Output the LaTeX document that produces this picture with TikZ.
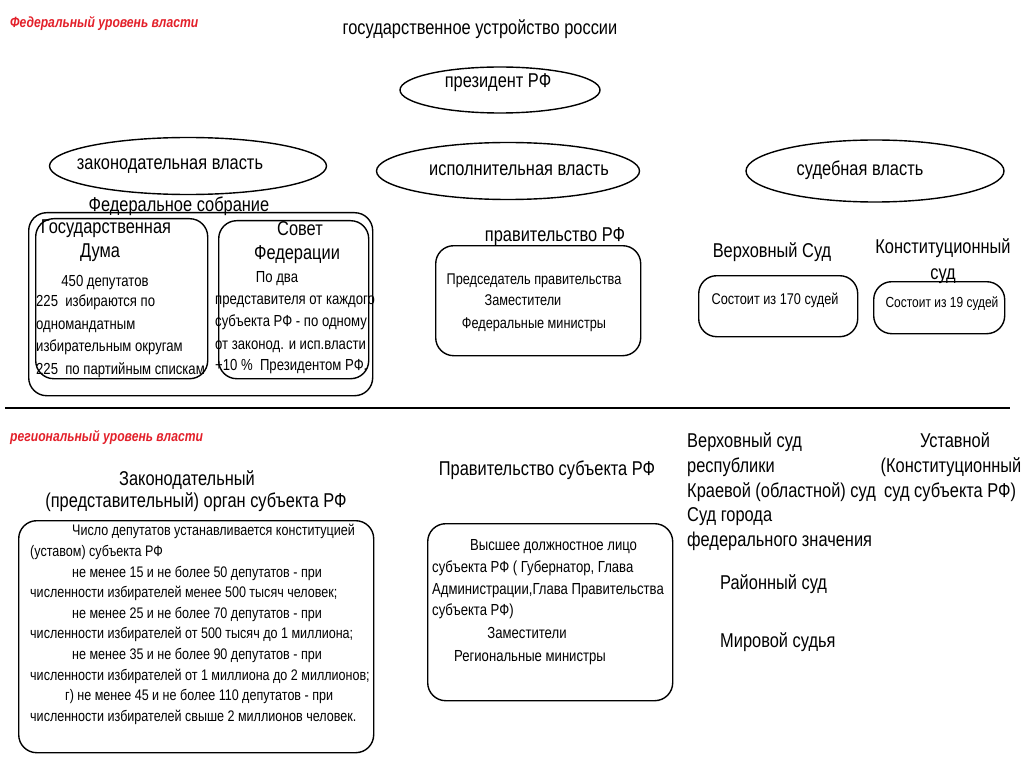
\documentclass[tikz,border=0pt]{standalone}
\usepackage{fontspec}
\setmainfont{Liberation Sans}[FakeStretch=0.82]
\usetikzlibrary{shapes.geometric}
\definecolor{redc}{HTML}{E3202A}
\begin{document}
\begin{tikzpicture}[x=1pt,y=-1pt,
  ell/.style={draw, ellipse, line width=1.4pt, inner sep=0pt},
  rbox/.style={draw, rectangle, rounded corners=18pt, line width=1.4pt, inner sep=0pt, anchor=north west},
  big/.style={inner sep=0pt, text depth=0pt, text height=15.2pt, font=\fontsize{20}{22}\selectfont},
  mid/.style={inner sep=0pt, text depth=0pt, text height=12.2pt, font=\fontsize{16}{18}\selectfont},
  small/.style={inner sep=0pt, text depth=0pt, text height=11.8pt, font=\fontsize{15.5}{17}\selectfont},
  reg/.style={inner sep=0pt, text depth=0pt, text height=11.8pt, font=\fontsize{16}{18}\selectfont},
  tiny/.style={inner sep=0pt, text depth=0pt, text height=11.2pt, font=\fontsize{14.6}{16}\selectfont},
  rtiny/.style={inner sep=0pt, text depth=0pt, text height=11.6pt, font=\fontsize{15.3}{17}\selectfont},
  redlbl/.style={inner sep=0pt, text depth=0pt, text height=11.2pt, anchor=west, font=\fontsize{14.8}{16}\selectfont\bfseries\itshape, text=redc}]
\useasboundingbox (0,0) rectangle (1024,767);
\fill[white] (0,0) rectangle (1024,767);

% ---------- federal level ----------
\node[redlbl] (fedlvl) at (10,22) {Федеральный уровень власти};
\node[big] (title) at (480,27) {государственное устройство россии};

\node[ell, minimum width=200pt, minimum height=46pt] (presE) at (500,90) {};
\node[big] (presT) at (498,80) {президент РФ};

\node[ell, minimum width=277pt, minimum height=57pt] (legE) at (188,166) {};
\node[big] (legT) at (170,162) {законодательная власть};
\node[ell, minimum width=263pt, minimum height=57pt] (exeE) at (508,171) {};
\node[big] (exeT) at (519,168) {исполнительная власть};
\node[ell, minimum width=258pt, minimum height=62pt] (judE) at (875,171) {};
\node[big] (judT) at (860,168) {судебная власть};

\node[big] (fsT) at (179,204) {Федеральное собрание};
\node[rbox, minimum width=344pt, minimum height=183pt] (fsBox) at (28,212) {};
\node[rbox, minimum width=172pt, minimum height=160pt] (dumaBox) at (35,218) {};
\node[rbox, minimum width=150pt, minimum height=158pt] (sfBox) at (218,220) {};

\node[big] (duma1) at (106,226) {Государственная};
\node[big] (duma2) at (100,250) {Дума};
\node[mid] (duma3) at (105,280) {450 депутатов};
\node[mid, anchor=west] (duma4) at (36,300) {225\ \ избираются по};
\node[mid, anchor=west] (duma5) at (36,323) {одномандатным};
\node[mid, anchor=west] (duma6) at (36,345) {избирательным округам};
\node[mid, anchor=west] (duma7) at (36,368) {225\ \ по партийным спискам};

\node[big] (sf1) at (300,228) {Совет};
\node[big] (sf2) at (297,252) {Федерации};
\node[mid] (sf3) at (277,276) {По два};
\node[mid, anchor=west] (sf4) at (215,298) {представителя от каждого};
\node[mid, anchor=west] (sf5) at (215,320) {субъекта РФ - по одному};
\node[mid, anchor=west] (sf6) at (215,343) {от законод. и исп.власти};
\node[mid, anchor=west] (sf7) at (215,364) {+10 \%\ \ Президентом РФ.};

\node[big] (govT) at (555,234) {правительство РФ};
\node[rbox, minimum width=205pt, minimum height=110pt] (govBox) at (435,245) {};
\node[small] (gov1) at (534,279) {Председатель правительства};
\node[small] (gov2) at (523,300) {Заместители};
\node[small] (gov3) at (534,323) {Федеральные министры};

\node[big] (vsT) at (772,250) {Верховный Суд};
\node[rbox, minimum width=159pt, minimum height=61pt] (vsBox) at (698,275) {};
\node[small] (vs1) at (775,299) {Состоит из 170 судей};

\node[big] (ksT1) at (943,246) {Конституционный};
\node[big] (ksT2) at (943,272) {суд};
\node[rbox, minimum width=131pt, minimum height=52pt] (ksBox) at (873,281) {};
\node[tiny] (ks1) at (942,302) {Состоит из 19 судей};

% ---------- divider ----------
\coordinate (divL) at (5,408);
\coordinate (divR) at (1010,408);
\draw[line width=1.5pt] (divL) -- (divR);

% ---------- regional level ----------
\node[redlbl] (reglvl) at (10,436) {региональный уровень власти};

\node[big] (rlT1) at (187,478) {Законодательный};
\node[big] (rlT2) at (196,500) {(представительный) орган субъекта РФ};
\node[rbox, minimum width=355pt, minimum height=232pt] (rlBox) at (18,520) {};
\node[rtiny, anchor=west] (rl1) at (72,530) {Число депутатов устанавливается конституцией};
\node[rtiny, anchor=west] (rl2) at (30,551) {(уставом) субъекта РФ};
\node[rtiny, anchor=west] (rl3) at (72,572) {не менее 15 и не более 50 депутатов - при};
\node[rtiny, anchor=west] (rl4) at (30,592) {численности избирателей менее 500 тысяч человек;};
\node[rtiny, anchor=west] (rl5) at (72,613) {не менее 25 и не более 70 депутатов - при};
\node[rtiny, anchor=west] (rl6) at (30,633) {численности избирателей от 500 тысяч до 1 миллиона;};
\node[rtiny, anchor=west] (rl7) at (72,654) {не менее 35 и не более 90 депутатов - при};
\node[rtiny, anchor=west] (rl8) at (30,675) {численности избирателей от 1 миллиона до 2 миллионов;};
\node[rtiny, anchor=west] (rl9) at (65,695) {г) не менее 45 и не более 110 депутатов - при};
\node[rtiny, anchor=west] (rl10) at (30,716) {численности избирателей свыше 2 миллионов человек.};

\node[big] (rgT) at (547,468) {Правительство субъекта РФ};
\node[rbox, minimum width=245pt, minimum height=177pt] (rgBox) at (427,523) {};
\node[reg, anchor=west] (rg1) at (470,545) {Высшее должностное лицо};
\node[reg, anchor=west] (rg2) at (432,567) {субъекта РФ ( Губернатор, Глава};
\node[reg, anchor=west] (rg3) at (432,589) {Администрации,Глава Правительства};
\node[reg, anchor=west] (rg4) at (432,610) {субъекта РФ)};
\node[reg] (rg5) at (527,633) {Заместители};
\node[reg] (rg6) at (530,656) {Региональные министры};

\node[big, anchor=west] (rc1) at (687,440) {Верховный суд};
\node[big, anchor=west] (rc2) at (687,465) {республики};
\node[big, anchor=west] (rc3) at (687,490) {Краевой (областной) суд};
\node[big, anchor=west] (rc4) at (687,514) {Суд города};
\node[big, anchor=west] (rc5) at (687,539) {федерального значения};

\node[big] (us1) at (955,440) {Уставной};
\node[big] (us2) at (951,465) {(Конституционный};
\node[big, anchor=west] (us3) at (884,490) {суд субъекта РФ)};

\node[big, anchor=west] (rs) at (720,582) {Районный суд};
\node[big, anchor=west] (ms) at (720,640) {Мировой судья};
\end{tikzpicture}
\end{document}
